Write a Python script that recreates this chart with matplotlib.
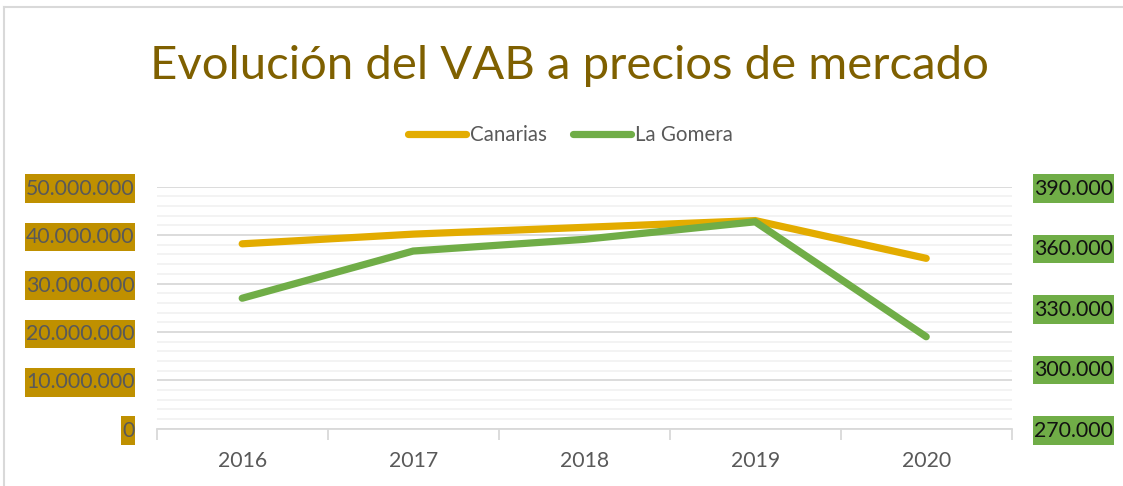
import matplotlib
matplotlib.use("Agg")
import matplotlib.pyplot as plt
from matplotlib.lines import Line2D
from matplotlib.path import Path
from matplotlib.ticker import FixedLocator, MultipleLocator, FuncFormatter

plt.rcParams['font.family'] = ['Lato', 'DejaVu Sans']

# data
years = ['2016', '2017', '2018', '2019', '2020']
canarias = [38.2e6, 40.2e6, 41.6e6, 43.0e6, 35.2e6]
la_gomera = [334.7e3, 358.1e3, 363.9e3, 372.6e3, 315.6e3]
left_ticks = [0, 10e6, 20e6, 30e6, 40e6, 50e6]
right_ticks = [270e3, 300e3, 330e3, 360e3, 390e3]

orange = '#E3AC00'
green = '#70AD47'
grey_txt = '#595959'


def miles(v, pos=None):
    # thousands separated by dots, spanish style
    return f"{int(round(v)):,}".replace(',', '.')


def label_box(x0, y0, width, height, mutation_size):
    # tight on the sides, taller above/below like the excel label fill
    px = 0.04 * mutation_size
    py = 0.2 * mutation_size
    verts = [(x0 - px, y0 - py), (x0 + width + px, y0 - py),
             (x0 + width + px, y0 + height + py), (x0 - px, y0 + height + py),
             (x0 - px, y0 - py)]
    return Path(verts, closed=True)


fig = plt.figure(figsize=(11.23, 4.86), dpi=100)
ax = fig.add_axes([156.7 / 1123, 1 - 428.7 / 486, 855 / 1123, 242 / 486])
ax2 = ax.twinx()

x = range(len(years))
l1, = ax.plot(x, canarias, color=orange, lw=5.2, solid_capstyle='round',
              solid_joinstyle='miter', zorder=3)
l2, = ax2.plot(x, la_gomera, color=green, lw=5.2, solid_capstyle='round',
               solid_joinstyle='miter', zorder=3)

ax.set_xlim(-0.5, len(years) - 0.5)
ax.set_ylim(0, 50e6)
ax2.set_ylim(270e3, 390e3)

# left axis: majors 10M, minors 2M
ax.yaxis.set_major_locator(FixedLocator(left_ticks))
ax.yaxis.set_minor_locator(MultipleLocator(2e6))
ax.yaxis.set_major_formatter(FuncFormatter(miles))
ax.grid(axis='y', which='major', color='#D9D9D9', lw=1.3, zorder=0)
ax.grid(axis='y', which='minor', color='#F2F2F2', lw=1.3, zorder=0)
ax.tick_params(axis='y', which='both', length=0, pad=16, labelsize=15.3,
               labelcolor=grey_txt)
for t in ax.get_yticklabels():
    t.set_bbox(dict(boxstyle=label_box, fc='#BF9000', ec='none'))

ax2.yaxis.set_major_locator(FixedLocator(right_ticks))
ax2.yaxis.set_major_formatter(FuncFormatter(miles))
ax2.tick_params(axis='y', length=0, pad=16, labelsize=15.3, labelcolor='#111111')
for t in ax2.get_yticklabels():
    t.set_bbox(dict(boxstyle=label_box, fc=green, ec='none'))

# x axis: labels on categories, tick marks between them
ax.set_xticks(list(x))
ax.set_xticklabels(years)
ax.set_xticks([i - 0.5 for i in range(len(years) + 1)], minor=True)
ax.tick_params(axis='x', which='major', length=0, pad=16, labelsize=15.3,
               labelcolor=grey_txt)
ax.tick_params(axis='x', which='minor', length=8, width=1.3, color='#D9D9D9')

for a in (ax, ax2):
    for s in ('top', 'left', 'right'):
        a.spines[s].set_visible(False)
    a.spines['bottom'].set_color('#D9D9D9')
    a.spines['bottom'].set_linewidth(1.3)
ax2.spines['bottom'].set_visible(False)

fig.text(569.4 / 1123, 1 - 79 / 486, 'Evolución del VAB a precios de mercado',
         ha='center', va='baseline', fontsize=34, color='#7F6000')

fig.legend([l1, l2], ['Canarias', 'La Gomera'], loc='center',
           bbox_to_anchor=(570.5 / 1123, 1 - 135 / 486), ncol=2, frameon=False,
           fontsize=14.8, labelcolor=grey_txt, handlelength=2.8,
           handletextpad=0.2, columnspacing=1.3)

# chart frame edges (top and left visible in the crop)
fig.add_artist(Line2D([3.5 / 1123, 1], [1 - 7 / 486, 1 - 7 / 486],
                      transform=fig.transFigure, color='#D9D9D9', lw=1.5))
fig.add_artist(Line2D([3.5 / 1123, 3.5 / 1123], [0, 1 - 7 / 486],
                      transform=fig.transFigure, color='#D9D9D9', lw=1.5))

fig.savefig('out.png', dpi=100)
